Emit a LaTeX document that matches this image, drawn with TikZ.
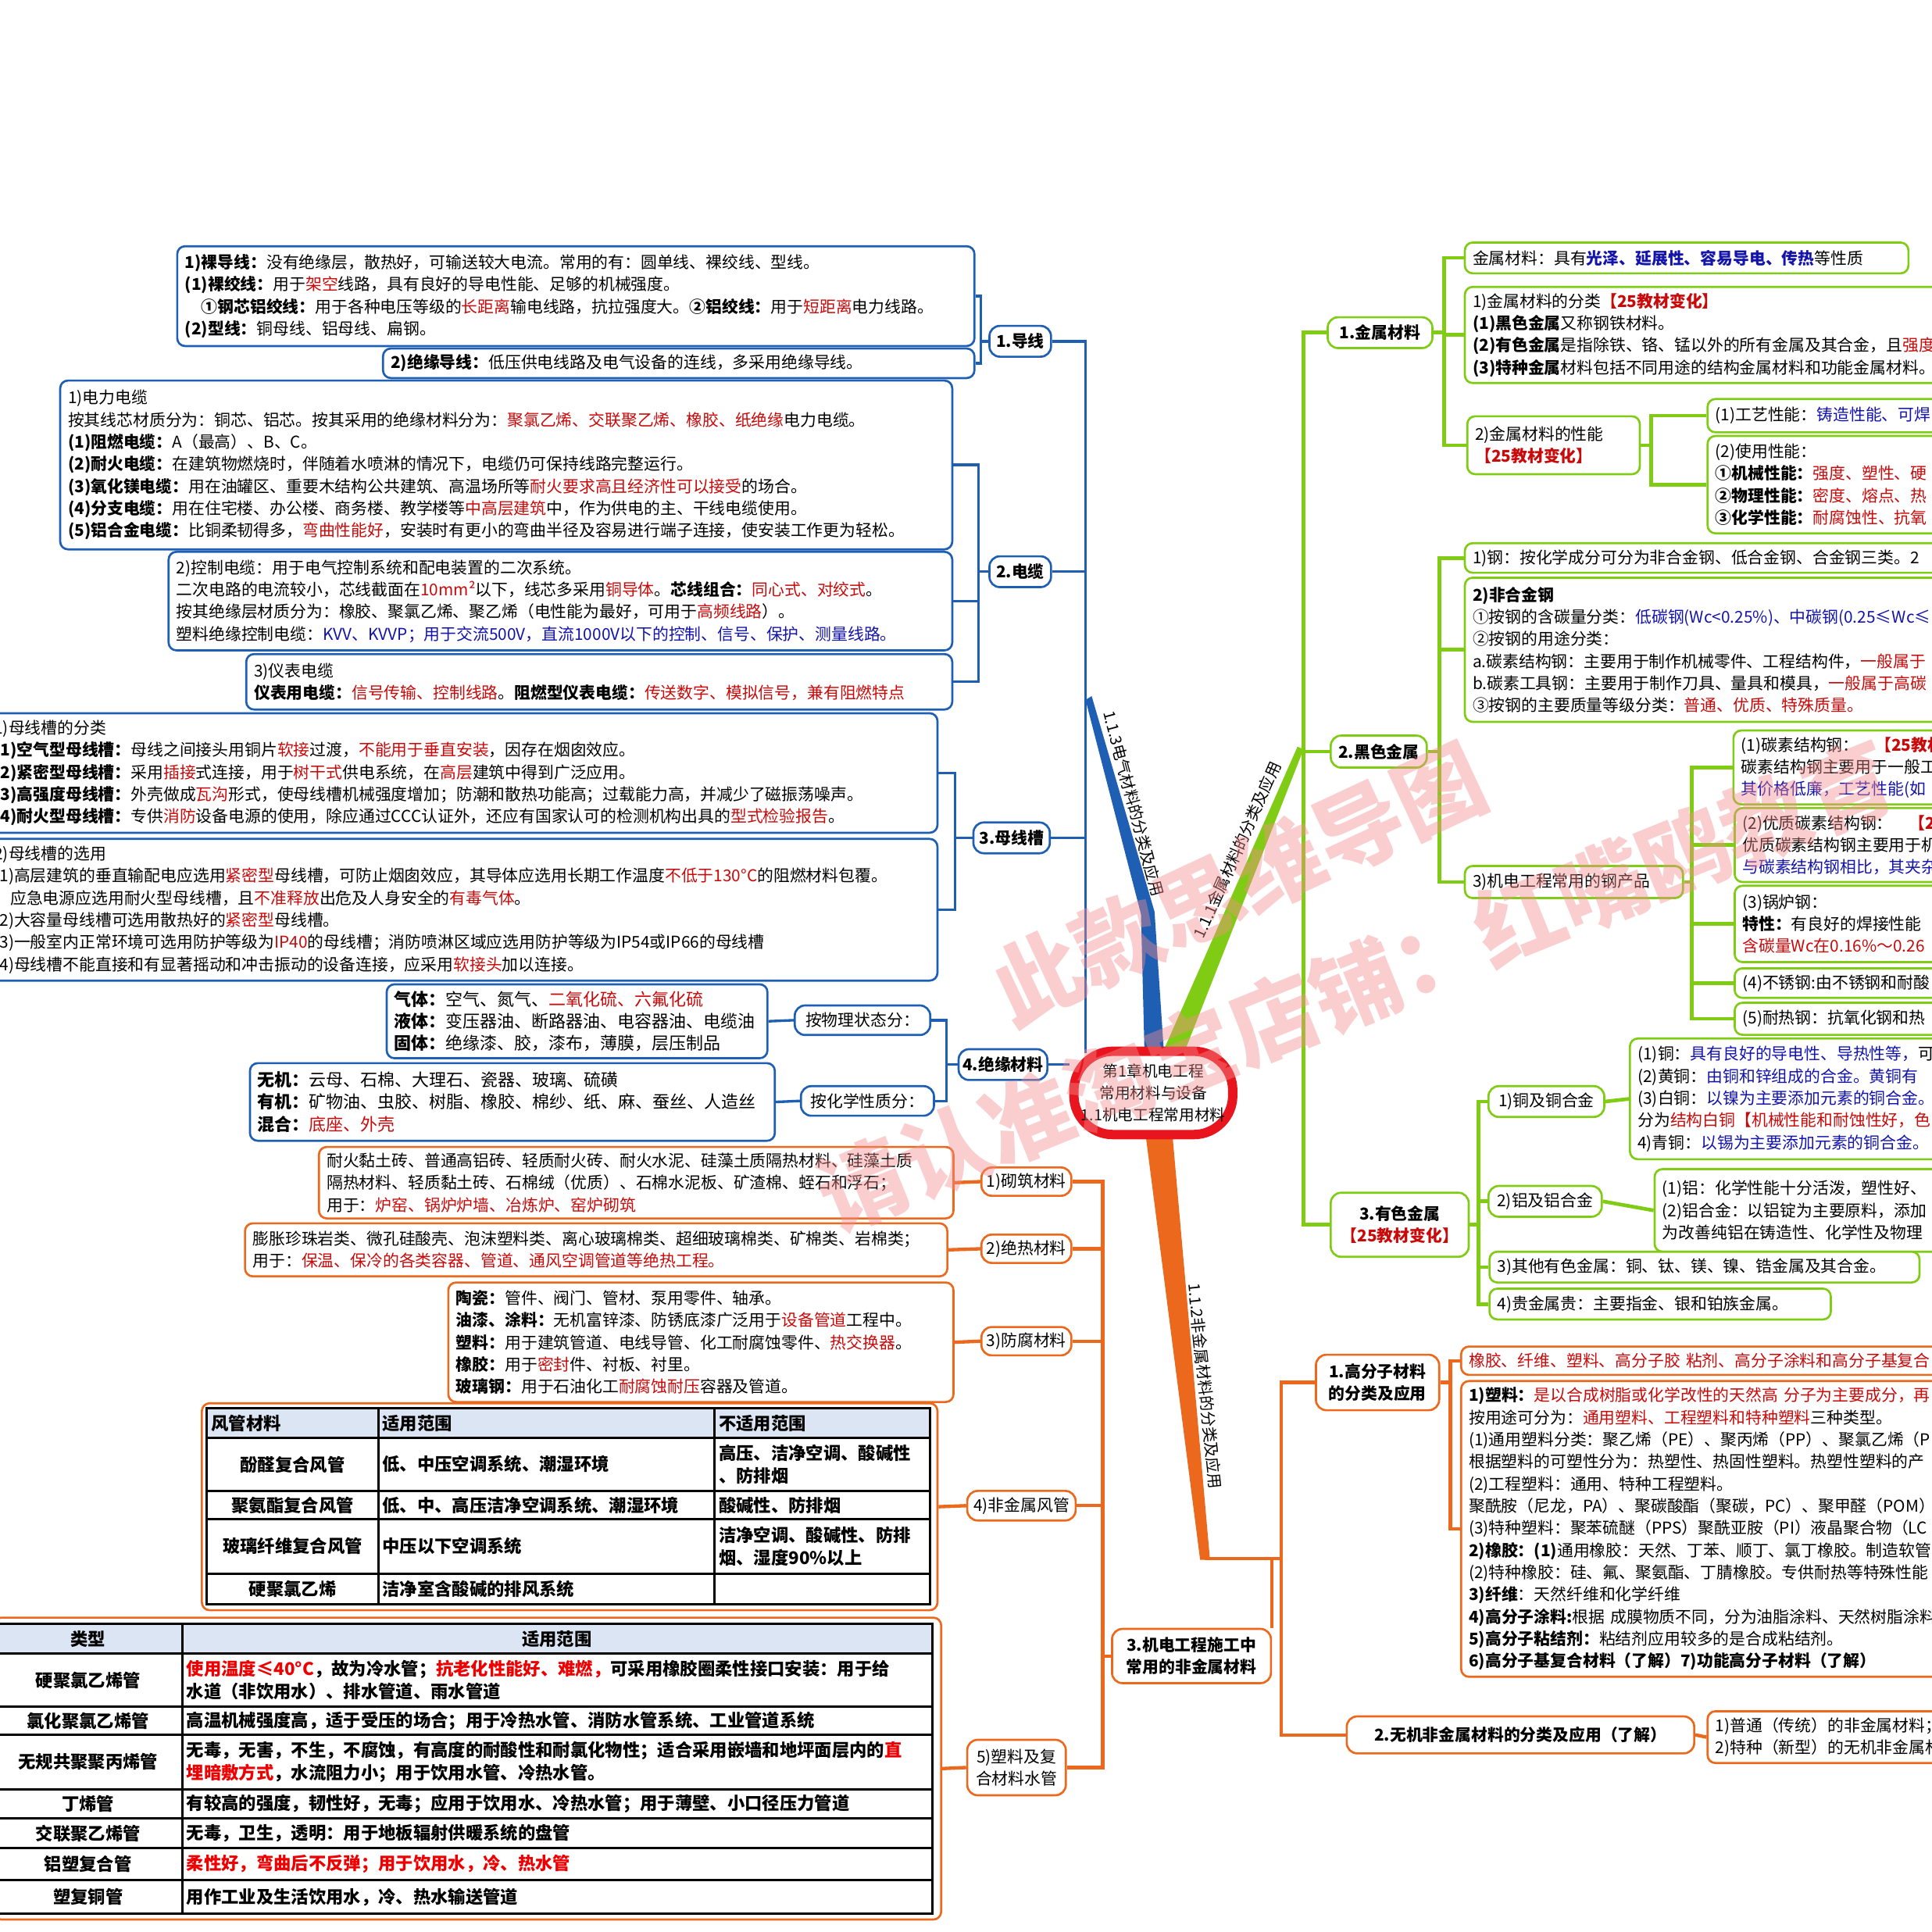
\documentclass[tikz,border=0pt]{standalone}
\usepackage{fontspec}
\setmainfont{Noto Sans CJK SC}
\usetikzlibrary{calc}
\definecolor{cblue}{RGB}{30,95,180}
\definecolor{cgreen}{RGB}{128,204,20}
\definecolor{corange}{RGB}{236,104,28}
\definecolor{cred}{RGB}{232,20,30}
\definecolor{tred}{RGB}{200,10,10}
\definecolor{tredb}{RGB}{238,0,0}
\definecolor{tblue}{RGB}{20,20,170}
\definecolor{hfill}{RGB}{219,229,243}
\definecolor{wmark}{RGB}{245,140,140}
\newcommand\bodyfont{\fontsize{6.25}{8.5}\selectfont}
\newcommand\tabfont{\fontsize{6.7}{8.5}\selectfont\bfseries}
\newcommand\myR[1]{\textcolor{tred}{#1}}
\newcommand\myB[1]{\textcolor{tblue}{#1}}
\newcommand\myRB[1]{\textcolor{tred}{\bfseries #1}}
\newcommand\myb[1]{\textbf{#1}}
\newcommand\myT[1]{\textcolor{tredb}{#1}}
% #1 name, #2 x, #3 y (top-left), #4 w, #5 h, #6 colour, #7 options, #8 text
\newcommand\tbx[8]{%
  \pgfmathsetlengthmacro\bxw{#4*0.4732pt-6pt}%
  \pgfmathsetlengthmacro\bxh{#5*0.4732pt}%
  \node[tbox,draw=#6,text width=\bxw,minimum height=\bxh,#7] (#1) at (#2,#3) {#8};}
% #1 name, #2 cx, #3 cy, #4 w, #5 h, #6 colour, #7 text
\newcommand\lbx[7]{%
  \pgfmathsetlengthmacro\bxw{#4*0.4732pt}%
  \pgfmathsetlengthmacro\bxh{#5*0.4732pt}%
  \node[lbox,draw=#6,minimum width=\bxw,minimum height=\bxh] (#1) at (#2,#3) {#7};}
\begin{document}
\begin{tikzpicture}[x=0.4732pt,y=-0.4732pt,
 tbox/.style={anchor=north west, rounded corners=3pt, line width=0.8pt, inner xsep=3pt, inner ysep=0pt, align=left, font=\bodyfont, fill=white},
 lbox/.style={anchor=center, rounded corners=4pt, line width=0.8pt, inner sep=1pt, align=center, font=\bodyfont, fill=white},
 lnb/.style={draw=cblue, line width=1pt},
 lng/.style={draw=cgreen, line width=1.4pt},
 lno/.style={draw=corange, line width=1.3pt},
 tgrid/.style={draw=black, line width=0.9pt},
 tc/.style={font=\tabfont, inner sep=0pt, align=left},
 blab/.style={font=\fontsize{6}{7}\selectfont, inner sep=0pt},
 wm/.style={text=wmark, opacity=0.42, font=\fontsize{34}{40}\selectfont\bfseries, inner sep=0pt}]
\useasboundingbox (0,0) rectangle (1568,1568);
\fill[white] (0,0) rectangle (1568,1568);
\clip (0,0) rectangle (1568,1568);

% ---- tapered main branches
\fill[cblue] (929,860) -- (926,742) -- (881,568) -- (886,565) -- (937,740) -- (945,860) -- cycle;
\fill[cgreen] (941,860) -- (1053,606) -- (1058,608) -- (958,862) -- cycle;
\fill[corange] (929,915) -- (974,1266) -- (982,1266) -- (951,915) -- cycle;
\node[blab,rotate=-75] (lab3) at (920,652) {1.1.3电气材料的分类及应用};
\node[blab,rotate=66] (lab1) at (1004,690) {1.1.1金属材料的分类及应用};
\node[blab,rotate=-84] (lab2) at (978,1125) {1.1.2非金属材料的分类及应用};

% ---- centre
\node[draw=cred, line width=3.6pt, rounded corners=15pt, fill=white, minimum width=61pt, minimum height=32pt, inner sep=0pt, align=center, font=\fontsize{5.9}{8.4}\selectfont] (CN) at (936,887) {第1章机电工程\\常用材料与设备\\1.1机电工程常用材料};

% ================= BLUE =================
\tbx{B1}{143}{199}{647}{81}{cblue}{}{%
\myb{1)裸导线：}没有绝缘层，散热好，可输送较大电流。常用的有：圆单线、裸绞线、型线。\\
\myb{(1)裸绞线：}用于\myR{架空}线路，具有良好的导电性能、足够的机械强度。\\
\hspace*{1em}\myb{①钢芯铝绞线：}用于各种电压等级的\myR{长距离}输电线路，抗拉强度大。\myb{②铝绞线：}用于\myR{短距离}电力线路。\\
\myb{(2)型线：}铜母线、铝母线、扁钢。}
\tbx{B2}{310}{282}{480}{24}{cblue}{}{\myb{2)绝缘导线：}低压供电线路及电气设备的连线，多采用绝缘导线。}
\lbx{L1}{828}{277}{50}{25}{cblue}{\myb{1.导线}}

\tbx{C1}{48}{308}{724}{137}{cblue}{}{%
1)电力电缆\\
按其线芯材质分为：铜芯、铝芯。按其采用的绝缘材料分为：\myR{聚氯乙烯、交联聚乙烯、橡胶、纸绝缘}电力电缆。\\
\myb{(1)阻燃电缆：}A（最高）、B、C。\\
\myb{(2)耐火电缆：}在建筑物燃烧时，伴随着水喷淋的情况下，电缆仍可保持线路完整运行。\\
\myb{(3)氧化镁电缆：}用在油罐区、重要木结构公共建筑、高温场所等\myR{耐火要求高且经济性可以接受}的场合。\\
\myb{(4)分支电缆：}用在住宅楼、办公楼、商务楼、教学楼等\myR{中高层建筑}中，作为供电的主、干线电缆使用。\\
\myb{(5)铝合金电缆：}比铜柔韧得多，\myR{弯曲性能好}，安装时有更小的弯曲半径及容易进行端子连接，使安装工作更为轻松。}
\tbx{C2}{136}{447}{636}{80}{cblue}{}{%
2)控制电缆：用于电气控制系统和配电装置的二次系统。\\
二次电路的电流较小，芯线截面在\myR{10mm²}以下，线芯多采用\myR{铜导体}。\myb{芯线组合：}\myR{同心式、对绞式}。\\
按其绝缘层材质分为：橡胶、聚氯乙烯、聚乙烯（电性能为最好，可用于\myR{高频线路}）。\\
塑料绝缘控制电缆：\myB{KVV、KVVP；用于交流500V，直流1000V以下的控制、信号、保护、测量线路。}}
\tbx{C3}{199}{530}{573}{45}{cblue}{}{%
3)仪表电缆\\
\myb{仪表用电缆：}\myR{信号传输、控制线路}。\myb{阻燃型仪表电缆：}\myR{传送数字、模拟信号，兼有阻燃特点}}
\lbx{L2}{828}{464}{50}{25}{cblue}{\myb{2.电缆}}

\tbx{M1}{-12}{578}{772}{97}{cblue}{}{%
1)母线槽的分类\\
\myb{(1)空气型母线槽：}母线之间接头用铜片\myR{软接}过渡，\myR{不能用于垂直安装}，因存在烟囱效应。\\
\myb{(2)紧密型母线槽：}采用\myR{插接}式连接，用于\myR{树干式}供电系统，在\myR{高层}建筑中得到广泛应用。\\
\myb{(3)高强度母线槽：}外壳做成\myR{瓦沟}形式，使母线槽机械强度增加；防潮和散热功能高；过载能力高，并减少了磁振荡噪声。\\
\myb{(4)耐火型母线槽：}专供\myR{消防}设备电源的使用，除应通过CCC认证外，还应有国家认可的检测机构出具的\myR{型式检验报告}。}
\tbx{M2}{-12}{680}{772}{115}{cblue}{}{%
2)母线槽的选用\\
(1)高层建筑的垂直输配电应选用\myR{紧密型}母线槽，可防止烟囱效应，其导体应选用长期工作温度\myR{不低于130°C}的阻燃材料包覆。\\
\hspace*{1em}应急电源应选用耐火型母线槽，且\myR{不准释放}出危及人身安全的\myR{有毒气体}。\\
(2)大容量母线槽可选用散热好的\myR{紧密型}母线槽。\\
(3)一般室内正常环境可选用防护等级为\myR{IP40}的母线槽；消防喷淋区域应选用防护等级为IP54或IP66的母线槽\\
(4)母线槽不能直接和有显著摇动和冲击振动的设备连接，应采用\myR{软接头}加以连接。}
\lbx{L3}{821}{680}{62}{25}{cblue}{\myb{3.母线槽}}

\tbx{I1}{313}{798}{309}{60}{cblue}{font=\fontsize{6.6}{8.5}\selectfont}{%
\myb{气体：}空气、氮气、\myR{二氧化硫、六氟化硫}\\
\myb{液体：}变压器油、断路器油、电容器油、电缆油\\
\myb{固体：}绝缘漆、胶，漆布，薄膜，层压制品}
\tbx{I2}{202}{862}{426}{63}{cblue}{font=\fontsize{6.6}{8.5}\selectfont}{%
\myb{无机：}云母、石棉、大理石、瓷器、玻璃、硫磺\\
\myb{有机：}矿物油、虫胶、树脂、橡胶、棉纱、纸、麻、蚕丝、人造丝\\
\myb{混合：}\myR{底座、外壳}}
\lbx{Ia}{700}{828}{110}{24}{cblue}{按物理状态分：}
\lbx{Ib}{704}{893.5}{108}{24}{cblue}{按化学性质分：}
\lbx{L4}{814}{864}{72}{25}{cblue}{\myb{4.绝缘材料}}

% blue connectors
\coordinate (sb) at (881,855);
\draw[lnb] (B1.east) -| ($(L1.west)+(-6,0)$) -- (L1.west);
\draw[lnb] (B2.east) -| ($(L1.west)+(-6,0)$);
\draw[lnb] (C1.east) -| ($(L2.west)+(-8,0)$) -- (L2.west);
\draw[lnb] (C2.east) -| ($(L2.west)+(-8,0)$);
\draw[lnb] (C3.east) -| ($(L2.west)+(-8,0)$);
\draw[lnb] (M1.east) -| ($(L3.west)+(-14,0)$) -- (L3.west);
\draw[lnb] (M2.east) -| ($(L3.west)+(-14,0)$);
\draw[lnb] (I1.east) -- (Ia.west);
\draw[lnb] (I2.east) -- (Ib.west);
\draw[lnb] (Ia.east) -| ($(L4.west)+(-9,0)$) -- (L4.west);
\draw[lnb] (Ib.east) -| ($(L4.west)+(-9,0)$);
\draw[lnb] (L1.east) -- (L1.east -| sb) -- (sb);
\draw[lnb] (L2.east) -- (L2.east -| sb);
\draw[lnb] (L3.east) -- (L3.east -| sb);
\draw[lnb] (L4.east) -- (L4.east -| CN.west);

% ================= ORANGE (left) =================
\tbx{O1}{258}{930}{515}{58}{corange}{}{%
耐火黏土砖、普通高铝砖、轻质耐火砖、耐火水泥、硅藻土质隔热材料、硅藻土质\\
隔热材料、轻质黏土砖、石棉绒（优质）、石棉水泥板、矿渣棉、蛭石和浮石；\\
用于：\myR{炉窑、锅炉炉墙、冶炼炉、窑炉砌筑}}
\tbx{O2}{198}{992}{570}{43}{corange}{}{%
膨胀珍珠岩类、微孔硅酸壳、泡沫塑料类、离心玻璃棉类、超细玻璃棉类、矿棉类、岩棉类；\\
用于：\myR{保温、保冷的各类容器、管道、通风空调管道等绝热工程。}}
\tbx{O3}{363}{1040}{410}{97}{corange}{}{%
\myb{陶瓷：}管件、阀门、管材、泵用零件、轴承。\\
\myb{油漆、涂料：}无机富锌漆、防锈底漆广泛用于\myR{设备管道}工程中。\\
\myb{塑料：}用于建筑管道、电线导管、化工耐腐蚀零件、\myR{热交换器}。\\
\myb{橡胶：}用于\myR{密封}件、衬板、衬里。\\
\myb{玻璃钢：}用于石油化工\myR{耐腐蚀耐压}容器及管道。}
\tbx{O4}{163}{1138}{597}{168}{corange}{}{}
\tbx{O5}{-6}{1312}{769}{245}{corange}{}{}
\lbx{K1}{833}{959}{73}{23}{corange}{1)砌筑材料}
\lbx{K2}{833}{1013.5}{73}{23}{corange}{2)绝热材料}
\lbx{K3}{833}{1088.5}{73}{23}{corange}{3)防腐材料}
\lbx{K4}{829}{1222}{88}{24}{corange}{4)非金属风管}
\lbx{K5}{825}{1434.5}{80}{45}{corange}{5)塑料及复\\合材料水管}
\lbx{N3}{967}{1344}{129}{44}{corange}{\myb{3.机电工程施工中}\\\myb{常用的非金属材料}}

% air-duct table
\fill[hfill] (168,1143) rectangle (755,1167);
\draw[tgrid] (168,1143) rectangle (755,1302);
\foreach \yy in {1167,1210,1233,1277}{\draw[tgrid] (168,\yy) -- (755,\yy);}
\foreach \xx in {307,580}{\draw[tgrid] (\xx,1143) -- (\xx,1302);}
\node[tc,anchor=west] (fa0) at (171,1155) {风管材料};
\node[tc,anchor=west] (fb0) at (310,1155) {适用范围};
\node[tc,anchor=west] (fc0) at (583,1155) {不适用范围};
\node[tc] (fa1) at (237.5,1188.5) {酚醛复合风管};
\node[tc,anchor=west] (fb1) at (310,1188.5) {低、中压空调系统、潮湿环境};
\node[tc,anchor=west] (fc1) at (583,1188.5) {高压、洁净空调、酸碱性\\、防排烟};
\node[tc] (fa2) at (237.5,1221.5) {聚氨酯复合风管};
\node[tc,anchor=west] (fb2) at (310,1221.5) {低、中、高压洁净空调系统、潮湿环境};
\node[tc,anchor=west] (fc2) at (583,1221.5) {酸碱性、防排烟};
\node[tc] (fa3) at (237.5,1255) {玻璃纤维复合风管};
\node[tc,anchor=west] (fb3) at (310,1255) {中压以下空调系统};
\node[tc,anchor=west] (fc3) at (583,1255) {洁净空调、酸碱性、防排\\烟、湿度90\%以上};
\node[tc] (fa4) at (237.5,1289.5) {硬聚氯乙烯};
\node[tc,anchor=west] (fb4) at (310,1289.5) {洁净室含酸碱的排风系统};

% pipe table
\fill[hfill] (-5,1318) rectangle (757,1342);
\draw[tgrid] (-5,1318) rectangle (757,1553);
\foreach \yy in {1342,1385,1408,1452,1476,1500,1526}{\draw[tgrid] (-5,\yy) -- (757,\yy);}
\draw[tgrid] (148,1318) -- (148,1553);
\node[tc] (pa0) at (71.5,1330) {类型};
\node[tc] (pb0) at (452,1330) {适用范围};
\node[tc] (pa1) at (71.5,1363.5) {硬聚氯乙烯管};
\node[tc,anchor=west] (pb1) at (151,1363.5) {\myT{使用温度≤40°C}，故为冷水管；\myT{抗老化性能好、难燃，}可采用橡胶圈柔性接口安装：用于给\\水道（非饮用水）、排水管道、雨水管道};
\node[tc] (pa2) at (71.5,1396.5) {氯化聚氯乙烯管};
\node[tc,anchor=west] (pb2) at (151,1396.5) {高温机械强度高，适于受压的场合；用于冷热水管、消防水管系统、工业管道系统};
\node[tc] (pa3) at (71.5,1430) {无规共聚聚丙烯管};
\node[tc,anchor=west] (pb3) at (151,1430) {无毒，无害，不生，不腐蚀，有高度的耐酸性和耐氯化物性；适合采用嵌墙和地坪面层内的\myT{直}\\\myT{埋暗敷方式}，水流阻力小；用于饮用水管、冷热水管。};
\node[tc] (pa4) at (71.5,1464) {丁烯管};
\node[tc,anchor=west] (pb4) at (151,1464) {有较高的强度，韧性好，无毒；应用于饮用水、冷热水管；用于薄壁、小口径压力管道};
\node[tc] (pa5) at (71.5,1488) {交联聚乙烯管};
\node[tc,anchor=west] (pb5) at (151,1488) {无毒，卫生，透明：用于地板辐射供暖系统的盘管};
\node[tc] (pa6) at (71.5,1513) {铝塑复合管};
\node[tc,anchor=west] (pb6) at (151,1513) {\myT{柔性好，弯曲后不反弹；用于饮用水，冷、热水管}};
\node[tc] (pa7) at (71.5,1539.5) {塑复铜管};
\node[tc,anchor=west] (pb7) at (151,1539.5) {用作工业及生活饮用水，冷、热水输送管道};

% orange connectors (left)
\coordinate (so) at (895,0);
\foreach \a/\b in {O1/K1,O2/K2,O3/K3,O4/K4,O5/K5}{\draw[lno] (\a.east) -- (\b.west);}
\draw[lno] (K1.east) -- (K1.east -| so) -- (K5.east -| so) -- (K5.east);
\foreach \b in {K2,K3,K4}{\draw[lno] (\b.east) -- (\b.east -| so);}
\draw[lno] (N3.west) -- (N3.west -| so);

% ================= ORANGE (right) =================
\lbx{P0}{1118}{1122}{100}{45}{corange}{\myb{1.高分子材料}\\\myb{的分类及应用}}
\tbx{P1}{1185}{1092}{420}{23}{corange}{}{\myR{橡胶、纤维、塑料、高分子胶~粘剂、高分子涂料和高分子基复合}}
\tbx{P2}{1185}{1120}{420}{240}{corange}{}{%
\myb{1)塑料：}\myR{是以合成树脂或化学改性的天然高~分子为主要成分，再}\\
按用途可分为：\myR{通用塑料、工程塑料和特种塑料}三种类型。\\
(1)通用塑料分类：聚乙烯（PE）、聚丙烯（PP）、聚氯乙烯（P\\
根据塑料的可塑性分为：热塑性、热固性塑料。热塑性塑料的产\\
(2)工程塑料：通用、特种工程塑料。\\
聚酰胺（尼龙，PA）、聚碳酸酯（聚碳，PC）、聚甲醛（POM）\\
(3)特种塑料：聚苯硫醚（PPS）聚酰亚胺（PI）液晶聚合物（LC\\
\myb{2)橡胶：(1)}通用橡胶：天然、丁苯、顺丁、氯丁橡胶。制造软管\\
(2)特种橡胶：硅、氟、聚氨酯、丁腈橡胶。专供耐热等特殊性能\\
\myb{3)纤维}：天然纤维和化学纤维\\
\myb{4)高分子涂料:}根据~成膜物质不同，分为油脂涂料、天然树脂涂料\\
\myb{5)高分子粘结剂：}粘结剂应用较多的是合成粘结剂。\\
\myb{6)高分子基复合材料（了解）7)功能高分子材料（了解）}}
\lbx{Q0}{1234}{1408}{282}{30}{corange}{\myb{2.无机非金属材料的分类及应用（了解）}}
\tbx{P3}{1385}{1388}{300}{42}{corange}{}{1)普通（传统）的非金属材料；\\2)特种（新型）的无机非金属材}

\coordinate (oe) at (978,1265);
\coordinate (ob) at (1040,1265);
\draw[lno] (oe) -- (ob);
\draw[lno] (N3.north east) -- (N3.north east |- oe);
\draw[lno] (P0.west) -| (ob);
\draw[lno] (Q0.west) -| (ob);
\draw[lno] (P0.east) -| ($(P1.west)+(-8,0)$) -- (P1.west);
\draw[lno] (P0.east) -| ($(P2.west)+(-8,0)$) -- (P2.west);
\draw[lno] (Q0.east) -- (P3.west);

% ================= GREEN =================
\lbx{G1}{1120}{270}{85}{25}{cgreen}{\myb{1.金属材料}}
\tbx{G1a}{1188}{196}{360}{25}{cgreen}{}{金属材料：具有\myB{\bfseries 光泽、延展性、容易导电、传热}等性质}
\tbx{G1b}{1188}{232}{420}{78}{cgreen}{}{%
1)金属材料的分类\myRB{【25教材变化】}\\
\myb{(1)黑色金属}又称钢铁材料。\\
\myb{(2)有色金属}是指除铁、铬、锰以外的所有金属及其合金，且\myR{强度}\\
\myb{(3)特种金属}材料包括不同用途的结构金属材料和功能金属材料。}
\tbx{G1c}{1190}{337}{140}{47}{cgreen}{}{2)金属材料的性能\\\myRB{【25教材变化】}}
\tbx{G1c1}{1385}{323}{300}{27}{cgreen}{}{(1)工艺性能：\myB{铸造性能、可焊}}
\tbx{G1c2}{1385}{353}{300}{79}{cgreen}{}{%
(2)使用性能：\\
\myb{①机械性能：}\myR{强度、塑性、硬}\\
\myb{②物理性能：}\myR{密度、熔点、热}\\
\myb{③化学性能：}\myR{耐腐蚀性、抗氧}}

\lbx{G2}{1119}{610}{78}{26}{cgreen}{\myb{2.黑色金属}}
\tbx{G2a}{1188}{440}{400}{24}{cgreen}{}{1)钢：按化学成分可分为非合金钢、低合金钢、合金钢三类。2}
\tbx{G2b}{1188}{468}{400}{117}{cgreen}{}{%
\myb{2)非合金钢}\\
①按钢的含碳量分类：\myB{低碳钢(Wc<0.25\%)、中碳钢(0.25≤Wc≤}\\
②按钢的用途分类：\\
a.碳素结构钢：主要用于制作机械零件、工程结构件，\myR{一般属于}\\
b.碳素工具钢：主要用于制作刀具、量具和模具，\myR{一般属于高碳}\\
③按钢的主要质量等级分类：\myR{普通、优质、特殊质量。}}
\tbx{G2c}{1188}{702}{177}{26}{cgreen}{}{3)机电工程常用的钢产品}
\tbx{G2c1}{1406}{592}{300}{60}{cgreen}{}{(1)碳素结构钢：\hspace{1em}\myRB{【25教材变}\\碳素结构钢主要用于一般工\\\myB{其价格低廉，工艺性能(如}}
\tbx{G2c2}{1407}{655}{300}{60}{cgreen}{}{(2)优质碳素结构钢：\hspace{1em}\myRB{【25}\\优质碳素结构钢主要用于机\\\myB{与碳素结构钢相比，其夹杂}}
\tbx{G2c3}{1407}{718}{300}{62}{cgreen}{}{(3)锅炉钢：\\\myb{特性：}有良好的焊接性能\\\myR{含碳量Wc在0.16\%～0.26}}
\tbx{G2c4}{1407}{785}{300}{24}{cgreen}{}{(4)不锈钢:由不锈钢和耐酸}
\tbx{G2c5}{1407}{813}{300}{26}{cgreen}{}{(5)耐热钢：抗氧化钢和热}

\lbx{G3}{1136}{994}{112}{52}{cgreen}{\myb{3.有色金属}\\\myRB{【25教材变化】}}
\lbx{G3a}{1255}{894}{94}{25}{cgreen}{1)铜及铜合金}
\tbx{G3a1}{1322}{842}{300}{98}{cgreen}{}{%
(1)铜：\myB{具有良好的导电性、导热性等，}可\\
(2)黄铜：\myB{由铜和锌组成的合金。黄铜有}\\
(3)白铜：\myB{以镍为主要添加元素的铜合金。}\\
分为\myR{结构白铜【机械性能和耐蚀性好，色}\\
4)青铜：\myB{以锡为主要添加元素的铜合金。}}
\lbx{G3b}{1254}{975}{92}{25}{cgreen}{2)铝及铝合金}
\tbx{G3b1}{1342}{948}{300}{67}{cgreen}{}{%
(1)铝：化学性能十分活泼，塑性好、\\
(2)铝合金：以铝锭为主要原料，添加\\
为改善纯铝在铸造性、化学性及物理}
\tbx{G3c}{1208}{1015}{349}{25}{cgreen}{}{3)其他有色金属：铜、钛、镁、镍、锆金属及其合金。}
\tbx{G3d}{1208}{1045}{277}{25}{cgreen}{}{4)贵金属贵：主要指金、银和铂族金属。}

% green connectors
\coordinate (sg) at (1058,0);
\draw[lng] (G1.west) -- (G1.west -| sg) -- (G3.west -| sg) -- (G3.west);
\draw[lng] (G2.west) -- (G2.west -| sg);
\coordinate (k1) at (1172,0);
\foreach \b in {G1a,G1b,G1c}{\draw[lng] (G1.east) -| (k1 |- \b.west) -- (\b.west);}
\coordinate (k2) at (1340,0);
\foreach \b in {G1c1,G1c2}{\draw[lng] (G1c.east) -| (k2 |- \b.west) -- (\b.west);}
\coordinate (k3) at (1168,0);
\foreach \b in {G2a,G2b,G2c}{\draw[lng] (G2.east) -| (k3 |- \b.west) -- (\b.west);}
\coordinate (k4) at (1373,0);
\foreach \b in {G2c1,G2c2,G2c3,G2c4,G2c5}{\draw[lng] (G2c.east) -| (k4 |- \b.west) -- (\b.west);}
\coordinate (k5) at (1200,0);
\foreach \b in {G3a,G3b,G3c,G3d}{\draw[lng] (G3.east) -| (k5 |- \b.west) -- (\b.west);}
\draw[lng] (G3a.east) -- (G3a1.west);
\draw[lng] (G3b.east) -- (G3b1.west);

% ---- watermark
\node[wm,rotate=25] (wm1) at (1005,717) {此款思维导图};
\node[wm,rotate=22] (wm2) at (1100,800) {请认准淘宝店铺：红嘴鸥教育};
\end{tikzpicture}
\end{document}
